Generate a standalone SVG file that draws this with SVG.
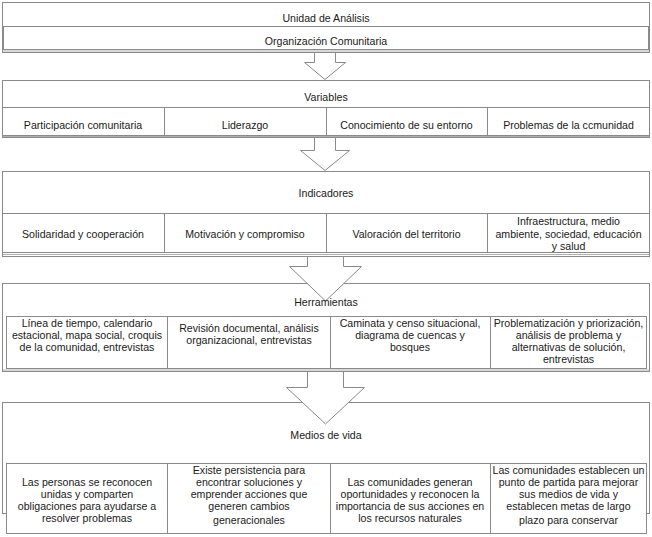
<svg xmlns="http://www.w3.org/2000/svg" width="652" height="537" viewBox="0 0 652 537">
<style>
.bx{fill:#ffffff;stroke:#8a8a8a;stroke-width:1}
.sh{fill:none;stroke:#b0b0b0;stroke-width:1}
.ar{fill:#ffffff;stroke:#8a8a8a;stroke-width:1;stroke-linejoin:miter}
text{font-family:"Liberation Sans",Arial,sans-serif;font-size:10.6px;fill:#1a1a1a;text-anchor:middle}
</style>
<rect width="652" height="537" fill="#ffffff"/>
<g id="unidad">
<rect class="bx" x="2.5" y="2.5" width="647" height="50"/>
<rect class="bx" x="3.5" y="26.5" width="645" height="23"/>
<line class="sh" x1="3" y1="51" x2="649" y2="51"/>
<text x="326" y="22">Unidad de Análisis</text>
<text x="326" y="45">Organización Comunitaria</text>
</g>
<g id="variables">
<rect class="bx" x="2.5" y="80.5" width="647" height="57"/>
<rect class="bx" x="2.5" y="107.5" width="162" height="28"/>
<rect class="bx" x="164.5" y="107.5" width="162" height="28"/>
<rect class="bx" x="326.5" y="107.5" width="161" height="28"/>
<rect class="bx" x="487.5" y="107.5" width="162" height="28"/>
<line class="sh" x1="3" y1="136.5" x2="649" y2="136.5"/>
<text x="326" y="101">Variables</text>
<text x="83" y="129">Participación comunitaria</text>
<text x="245" y="129">Liderazgo</text>
<text x="406.5" y="129">Conocimiento de su entorno</text>
<text x="568.5" y="129">Problemas de la ccmunidad</text>
</g>
<g id="indicadores">
<rect class="bx" x="2.5" y="171.5" width="647" height="85"/>
<rect class="bx" x="2.5" y="213.5" width="162" height="39"/>
<rect class="bx" x="164.5" y="213.5" width="162" height="39"/>
<rect class="bx" x="326.5" y="213.5" width="161" height="39"/>
<rect class="bx" x="487.5" y="213.5" width="162" height="39"/>
<line class="sh" x1="3" y1="254.5" x2="649" y2="254.5"/>
<text x="326" y="197">Indicadores</text>
<text x="83" y="238">Solidaridad y cooperación</text>
<text x="245" y="238">Motivación y compromiso</text>
<text x="406.5" y="238">Valoración del territorio</text>
<text x="568.5" y="225">Infraestructura, medio</text>
<text x="568.5" y="238">ambiente, sociedad, educación</text>
<text x="568.5" y="250">y salud</text>
</g>
<g id="herramientas">
<rect class="bx" x="2.5" y="283.5" width="647" height="88"/>
<rect class="bx" x="6.5" y="316.5" width="161" height="52"/>
<rect class="bx" x="167.5" y="316.5" width="163" height="52"/>
<rect class="bx" x="330.5" y="316.5" width="160" height="52"/>
<rect class="bx" x="490.5" y="316.5" width="156" height="52"/>
<line class="sh" x1="3" y1="370" x2="649" y2="370"/>
</g>
<g id="medios">
<rect class="bx" x="2.5" y="402.5" width="647" height="111"/>
<rect class="bx" x="6.5" y="463.5" width="161" height="70"/>
<rect class="bx" x="167.5" y="463.5" width="163" height="70"/>
<rect class="bx" x="330.5" y="463.5" width="160" height="70"/>
<rect class="bx" x="490.5" y="463.5" width="156" height="70"/>
</g>
<g id="connectors">
<polygon class="ar" points="314.5,52.5 335.5,52.5 335.5,62.5 345.5,62.5 325,79.5 304.5,62.5 314.5,62.5"/>
<polygon class="ar" points="314.5,137.5 335.5,137.5 335.5,150.5 349.5,150.5 325,170.5 300.5,150.5 314.5,150.5"/>
<polygon class="ar" points="307.5,256.5 343.5,256.5 343.5,266.5 361.5,266.5 325.5,301 289.5,266.5 307.5,266.5"/>
<polygon class="ar" points="307.5,371.5 343.5,371.5 343.5,387.5 364.5,387.5 325.5,424 286.5,387.5 307.5,387.5"/>
</g>
<g id="herramientas-text">
<text x="326" y="306">Herramientas</text>
<text x="87" y="327">Línea de tiempo, calendario</text>
<text x="87" y="339">estacional, mapa social, croquis</text>
<text x="87" y="351">de la comunidad, entrevistas</text>
<text x="249" y="332">Revisión documental, análisis</text>
<text x="249" y="344">organizacional, entrevistas</text>
<text x="410" y="327">Caminata y censo situacional,</text>
<text x="410" y="339">diagrama de cuencas y</text>
<text x="410" y="351">bosques</text>
<text x="568.5" y="327">Problematización y priorización,</text>
<text x="568.5" y="339">análisis de problema y</text>
<text x="568.5" y="351">alternativas de solución,</text>
<text x="568.5" y="363">entrevistas</text>
</g>
<g id="medios-text">
<text x="326" y="439">Medios de vida</text>
<text x="87" y="486">Las personas se reconocen</text>
<text x="87" y="498">unidas y comparten</text>
<text x="87" y="510">obligaciones para ayudarse a</text>
<text x="87" y="522">resolver problemas</text>
<text x="249" y="474">Existe persistencia para</text>
<text x="249" y="486">encontrar soluciones y</text>
<text x="249" y="498">emprender acciones que</text>
<text x="249" y="510">generen cambios</text>
<text x="249" y="524">generacionales</text>
<text x="410" y="486">Las comunidades generan</text>
<text x="410" y="498">oportunidades y reconocen la</text>
<text x="410" y="510">importancia de sus acciones en</text>
<text x="410" y="522">los recursos naturales</text>
<text x="568.5" y="474">Las comunidades establecen un</text>
<text x="568.5" y="486">punto de partida para mejorar</text>
<text x="568.5" y="498">sus medios de vida y</text>
<text x="568.5" y="510">establecen metas de largo</text>
<text x="568.5" y="524">plazo para conservar</text>
</g>
</svg>
